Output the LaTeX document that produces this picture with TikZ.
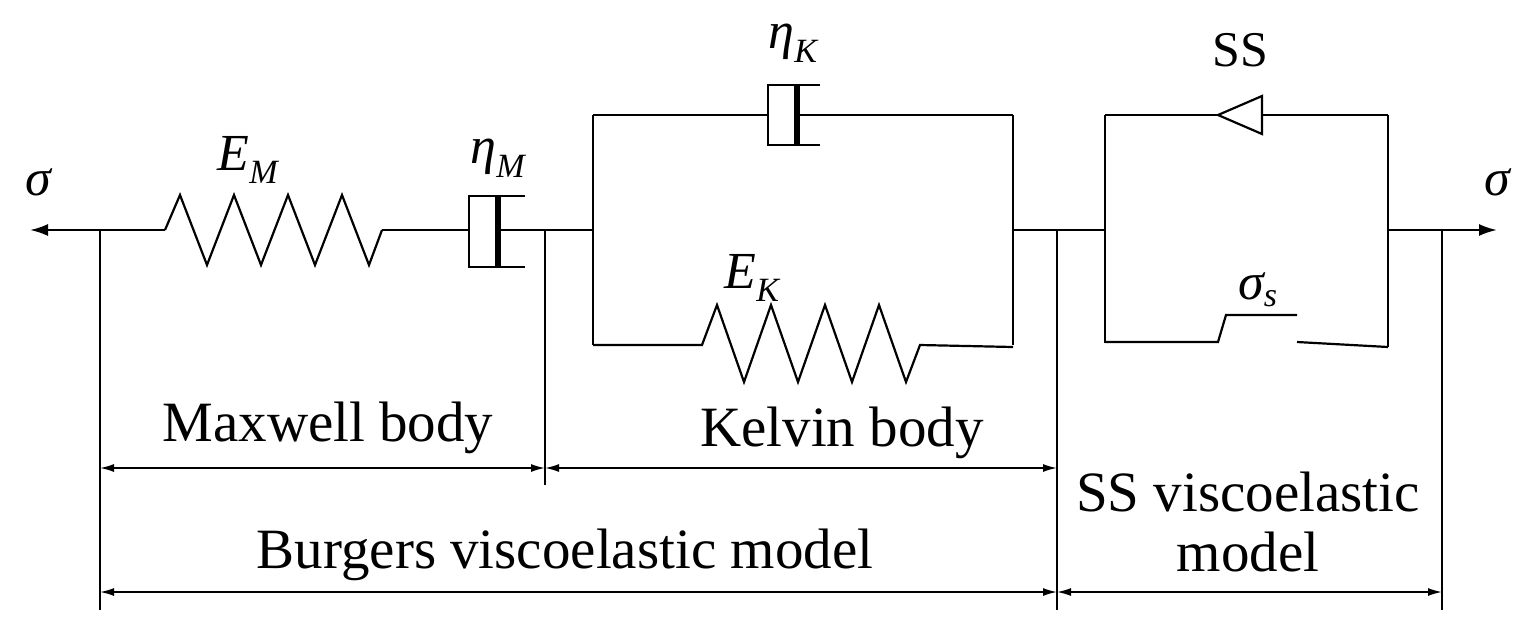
\documentclass[tikz,border=0pt]{standalone}
\usepackage{fontspec}
\setmainfont{Liberation Serif}
\usetikzlibrary{arrows.meta}
\tikzset{
  wire/.style={line width=2.2pt},
  dim/.style={line width=1.6pt,{Latex[length=14pt,width=8pt]}-{Latex[length=14pt,width=8pt]}},
  lbl/.style={inner sep=0pt,font=\fontsize{57}{60}\selectfont},
  sym/.style={inner sep=0pt,font=\fontsize{52}{56}\selectfont\itshape},
  spring/.style={wire,line join=miter},
}
\newcommand{\sbs}[1]{\textsubscript{\fontsize{34}{36}\selectfont #1}}
\begin{document}
\begin{tikzpicture}[x=1pt,y=-1pt]
\useasboundingbox (0,0) rectangle (1540,633);

% Ends
\coordinate (lEnd) at (30,230);
\coordinate (rEnd) at (1497,230);
\coordinate (lDim) at (100,230);
\coordinate (rDim) at (1442,230);
\node[sym] (sigL) at (38,182) {σ};
\node[sym] (sigR) at (1497,182) {σ};

% Maxwell spring
\coordinate (sMa) at (165,230);
\coordinate (sMb) at (382,230);
\draw[wire,{Latex[length=18pt,width=12pt]}-] (lEnd) -- (sMa);
\draw[spring] (sMa) -- (180,195) -- (207,265) -- (234,195) -- (261,265) -- (288,195) -- (315,265) -- (342,195) -- (369,265) -- (sMb);
\node[sym] (EM) at (248,160) {E\sbs{M}};

% Maxwell dashpot
\coordinate (dMl) at (469,230);
\coordinate (dMp) at (498,230);
\coordinate (jML) at (545,230);
\draw[wire] (sMb) -- (dMl);
\draw[wire] (525,196) -- (469,196) -- (469,267) -- (525,267);
\draw[line width=6pt] (498,196) -- (498,267);
\draw[wire] (dMp) -- (jML);
\node[sym] (etaM) at (498,158) {η\sbs{M}};

% Kelvin body
\coordinate (kL) at (593,230);
\coordinate (kR) at (1013,230);
\coordinate (jKS) at (1057,230);
\draw[wire] (jML) -- (kL);
\draw[wire] (593,115) -- (593,345);
\draw[wire] (1013,115) -- (1013,345);
\draw[wire] (593,115) -- (768,115);
\draw[wire] (820,85) -- (768,85) -- (768,145) -- (820,145);
\draw[line width=6pt] (797,85) -- (797,145);
\draw[wire] (797,115) -- (1013,115);
\node[sym] (etaK) at (793,43) {η\sbs{K}};
\draw[spring] (593,345) -- (702,345) -- (717,305) -- (744,382) -- (771,305) -- (798,382) -- (825,305) -- (852,382) -- (879,305) -- (906,382) -- (920,345) -- (1013,347);
\node[sym] (EK) at (752,278) {E\sbs{K}};

% SS body
\coordinate (sL) at (1105,230);
\coordinate (sR) at (1388,230);
\draw[wire] (kR) -- (sL);
\draw[wire] (1105,115) -- (1105,343);
\draw[wire] (1388,115) -- (1388,347);
\draw[wire] (1105,115) -- (1218,115);
\draw[wire,line join=miter] (1218,115) -- (1262,96) -- (1262,134) -- cycle;
\draw[wire] (1262,115) -- (1388,115);
\node[lbl,font=\fontsize{50}{54}\selectfont] (SS) at (1240,50) {SS};
\draw[wire] (1105,342) -- (1218,342) -- (1226,315) -- (1297,315);
\draw[wire] (1297,342) -- (1388,347);
\node[sym] (sigS) at (1258,290) {σ\sbs{s}};
\draw[wire,-{Latex[length=18pt,width=12pt]}] (sR) -- (rEnd);

% Dimension lines
\draw[line width=1.6pt] (lDim) -- (100,610);
\draw[line width=1.6pt] (jML) -- (545,485);
\draw[line width=1.6pt] (jKS) -- (1057,610);
\draw[line width=1.6pt] (rDim) -- (1442,610);
\coordinate (m1) at (100,468);
\coordinate (m2) at (545,468);
\coordinate (m3) at (1057,468);
\coordinate (b1) at (100,592);
\coordinate (b2) at (1057,592);
\coordinate (b3) at (1442,592);
\draw[dim] (m1) -- (m2);
\draw[dim] (m2) -- (m3);
\draw[dim] (b1) -- (b2);
\draw[dim] (b2) -- (b3);

% Text Node
\node[lbl] (maxw) at (328,428) {Maxwell body};
\node[lbl] (kelv) at (842,433) {Kelvin body};
\node[lbl] (burg) at (565,555) {Burgers viscoelastic model};
\node[lbl,align=center] (ssm) at (1248,522) {SS viscoelastic\\model};
\end{tikzpicture}
\end{document}
